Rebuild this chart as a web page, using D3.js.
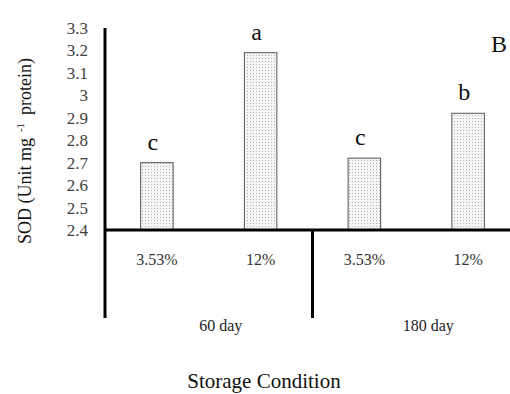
<!DOCTYPE html>
<html>
<head>
<meta charset="utf-8">
<script src="https://cdn.jsdelivr.net/npm/d3@7"></script>
<style>
  body { margin: 0; background: #fff; }
  svg text { font-family: "Liberation Serif", "Times New Roman", serif !important; }
</style>
</head>
<body>
<div id="chart"></div>
<script>
// data
const categories = ["60-3.53", "60-12", "180-3.53", "180-12"];
const tickNames = ["3.53%", "12%", "3.53%", "12%"];
const sodValues = [2.70, 3.19, 2.72, 2.92];
const sigLetters = ["c", "a", "c", "b"];
const groups = ["60 day", "180 day"];
const yTicks = [2.4, 2.5, 2.6, 2.7, 2.8, 2.9, 3, 3.1, 3.2, 3.3];

const width = 510, height = 394;

const svg = d3.select("#chart").append("svg")
  .attr("width", width)
  .attr("height", height);

// dotted fill like the excel pattern
const defs = svg.append("defs");
const pat = defs.append("pattern")
  .attr("id", "dots")
  .attr("patternUnits", "userSpaceOnUse")
  .attr("width", 3).attr("height", 3);
pat.append("rect").attr("width", 3).attr("height", 3).attr("fill", "#f5f5f5");
pat.append("rect").attr("x", 1).attr("y", 1).attr("width", 1).attr("height", 1).attr("fill", "#b0b0b0");

const x0 = 105, xEnd = 520, baseY = 230, bottomY = 318;

const x_scale = d3.scaleBand().domain(categories).range([x0, xEnd]);
const g_scale = d3.scaleBand().domain(groups).range([x0, xEnd]);
const y_scale = d3.scaleLinear().domain([2.4, 3.3]).range([baseY, 28]);

const barW = 32.5;

// bars
svg.append("g").selectAll("rect")
  .data(categories)
  .enter().append("rect")
    .attr("x", (d) => x_scale(d) + (x_scale.bandwidth() - barW) / 2)
    .attr("y", (d, i) => y_scale(sodValues[i]))
    .attr("width", barW)
    .attr("height", (d, i) => baseY - y_scale(sodValues[i]))
    .attr("fill", "url(#dots)")
    .attr("stroke", "#555")
    .attr("stroke-width", 1);

// significance letters
svg.append("g").selectAll("text")
  .data(categories)
  .enter().append("text")
    .attr("x", (d) => x_scale(d) + x_scale.bandwidth() / 2 - 4)
    .attr("y", (d, i) => y_scale(sodValues[i]) - 13)
    .attr("text-anchor", "middle")
    .attr("font-size", 24)
    .attr("fill", "#111")
    .text((d, i) => sigLetters[i]);

// y axis labels
const yAxis = svg.append("g")
  .attr("transform", "translate(" + x0 + ",0)")
  .call(d3.axisLeft(y_scale).tickValues(yTicks).tickSize(0).tickPadding(17).tickFormat(d3.format("")));
yAxis.select(".domain").remove();
yAxis.attr("font-size", null).attr("font-family", null);
yAxis.selectAll("text")
  .attr("font-size", 17)
  .attr("fill", "#404040");

// axis lines
svg.append("line")
  .attr("x1", x0).attr("x2", x0)
  .attr("y1", y_scale(3.3)).attr("y2", bottomY)
  .attr("stroke", "#000").attr("stroke-width", 3);
svg.append("line")
  .attr("x1", x0).attr("x2", xEnd)
  .attr("y1", baseY).attr("y2", baseY)
  .attr("stroke", "#000").attr("stroke-width", 3);
svg.append("line")
  .attr("x1", g_scale(groups[1])).attr("x2", g_scale(groups[1]))
  .attr("y1", baseY).attr("y2", bottomY)
  .attr("stroke", "#000").attr("stroke-width", 3);

// x tick labels
svg.append("g").selectAll("text")
  .data(categories)
  .enter().append("text")
    .attr("x", (d) => x_scale(d) + x_scale.bandwidth() / 2)
    .attr("y", 265)
    .attr("text-anchor", "middle")
    .attr("font-size", 16)
    .attr("fill", "#333")
    .text((d, i) => tickNames[i]);

// group labels
svg.append("g").selectAll("text")
  .data(groups)
  .enter().append("text")
    .attr("x", (d) => g_scale(d) + g_scale.bandwidth() / 2 + 12)
    .attr("y", 331)
    .attr("text-anchor", "middle")
    .attr("font-size", 16)
    .attr("fill", "#222")
    .text((d) => d);

// axis titles
svg.append("text")
  .attr("x", 264)
  .attr("y", 388)
  .attr("text-anchor", "middle")
  .attr("font-size", 21)
  .attr("fill", "#111")
  .text("Storage Condition");

const yTitle = svg.append("text")
  .attr("transform", "translate(31,151) rotate(-90)")
  .attr("text-anchor", "middle")
  .attr("font-size", 18)
  .attr("fill", "#111");
yTitle.append("tspan").text("SOD (Unit mg");
yTitle.append("tspan").attr("font-size", 11).attr("dx", 6).attr("dy", -7).text("-1");
yTitle.append("tspan").attr("dx", 8).attr("dy", 7).text("protein)");

// panel letter
svg.append("text")
  .attr("x", 491)
  .attr("y", 52)
  .attr("font-size", 24)
  .attr("fill", "#111")
  .text("B");
</script>
</body>
</html>
